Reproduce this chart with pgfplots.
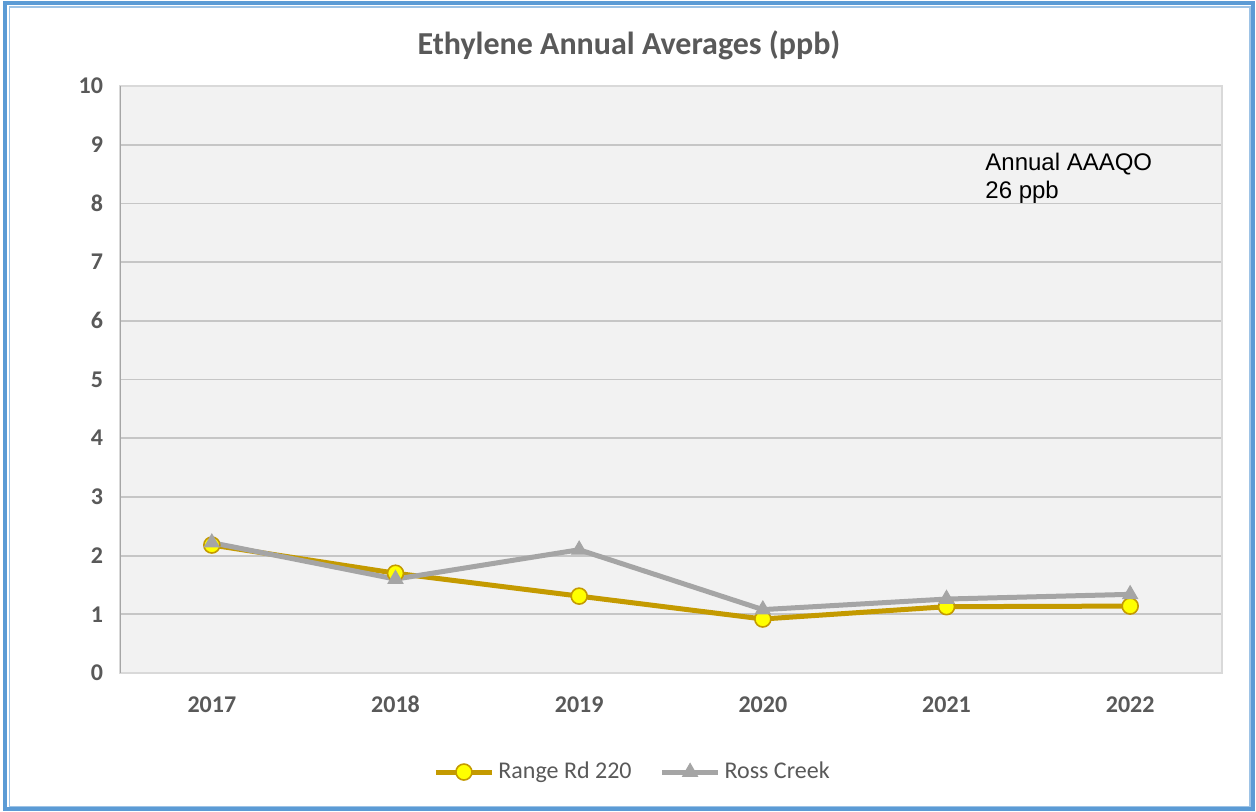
\documentclass[border=0pt]{standalone}
\usepackage{fontspec}
\setmainfont{Carlito}
\newfontfamily\arialfont{Liberation Sans}
\usepackage{pgfplots}
\pgfplotsset{compat=1.18}
\definecolor{goldline}{HTML}{C49A00}
\definecolor{yellowfill}{HTML}{FFFF00}
\definecolor{greyline}{HTML}{A5A5A5}
\definecolor{plotbg}{HTML}{F2F2F2}
\definecolor{gridc}{HTML}{C6C6C6}
\definecolor{borderc}{HTML}{D9D9D9}
\definecolor{leftax}{HTML}{A6A6A6}
\definecolor{txt}{HTML}{595959}
\definecolor{frameblue}{HTML}{5B9BD5}
\definecolor{framelight}{HTML}{9DC3E6}
\begin{document}
\begin{tikzpicture}
\path[use as bounding box] (0,0) rectangle (628pt,405.5pt);
\fill[white] (0,0) rectangle (628pt,405.5pt);
\draw[frameblue, line width=2pt] (2.5pt,1pt) rectangle (626.5pt,404pt);
\draw[framelight, line width=0.6pt] (4.8pt,2.2pt) rectangle (625pt,402pt);
\node[font=\fontsize{16}{19}\selectfont\bfseries, text=txt] at (314.5pt,383pt) {Ethylene Annual Averages (ppb)};
\begin{axis}[
  at={(60pt,69pt)}, anchor=south west,
  width=551pt, height=293.5pt, scale only axis,
  xmin=-0.5, xmax=5.5, ymin=0, ymax=10,
  xtick={0,1,2,3,4,5},
  xticklabels={2017,2018,2019,2020,2021,2022},
  ytick={0,1,2,3,4,5,6,7,8,9,10},
  /pgf/number format/assume math mode=true,
  major tick length=0pt,
  ymajorgrids,
  grid style={draw=gridc, line width=0.9pt},
  axis background/.style={fill=plotbg},
  axis line style={draw=borderc, line width=1pt},
  tick label style={font=\fontsize{12}{14}\selectfont\bfseries, text=txt},
  yticklabel style={xshift=-5pt},
  xticklabel style={yshift=-7.5pt, text height=8.5pt, text depth=0pt},
  legend style={at={(0.466,-0.1687)}, anchor=center, draw=none, fill=none,
    legend columns=2, font=\fontsize{12}{14}\selectfont, text=txt,
    /tikz/every even column/.append style={column sep=12pt}},
  legend cell align=left,
  legend image code/.code={\draw[mark repeat=2,mark phase=2,#1] plot coordinates {(0pt,0pt) (14pt,0pt) (28pt,0pt)};},
]
\addplot[goldline, line width=2.5pt, mark=*, mark size=4pt,
  mark options={fill=yellowfill, draw=goldline, line width=0.8pt}]
  coordinates {(0,2.18) (1,1.70) (2,1.31) (3,0.92) (4,1.13) (5,1.14)};
\addlegendentry{Range Rd 220}
\addplot[greyline, line width=2.5pt, mark=triangle*, mark size=4.3pt,
  mark options={fill=greyline, draw=greyline, line width=0.5pt}]
  coordinates {(0,2.22) (1,1.60) (2,2.10) (3,1.08) (4,1.26) (5,1.34)};
\addlegendentry{Ross Creek}
\draw[leftax, line width=1pt] (rel axis cs:0,0) -- (rel axis cs:0,1);
\end{axis}
\node[anchor=north west, align=left, font=\fontsize{12}{14}\selectfont\arialfont, inner sep=0pt] at (492.5pt,329pt) {Annual AAAQO\\26 ppb};
\end{tikzpicture}
\end{document}
